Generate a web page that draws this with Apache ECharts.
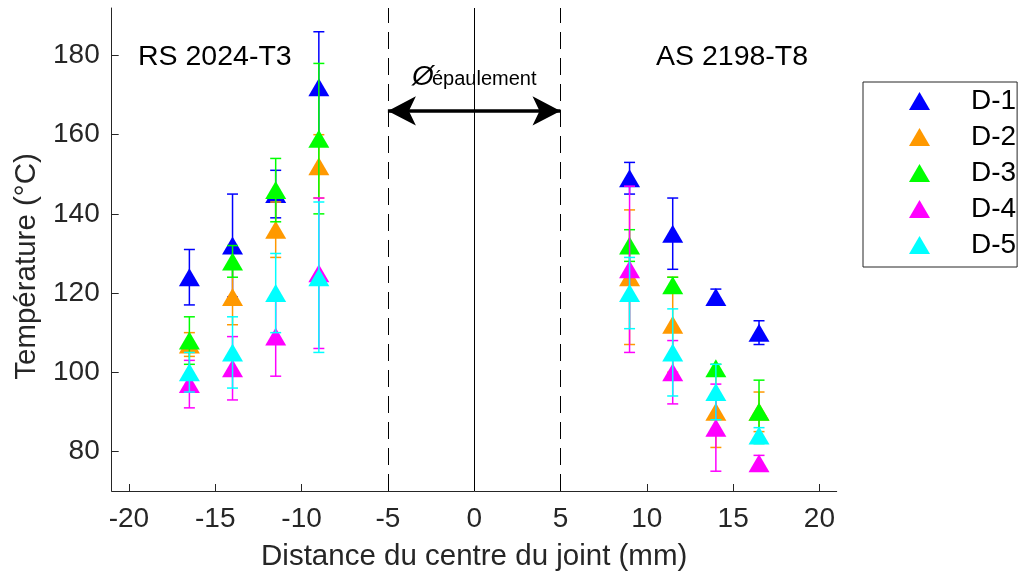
<!DOCTYPE html>
<html>
<head>
<meta charset="utf-8">
<script src="https://cdn.jsdelivr.net/npm/echarts@6/dist/echarts.min.js"></script>
<style>
html,body{margin:0;padding:0;background:#fff;}
#chart{width:1018px;height:576px;}
</style>
</head>
<body>
<div id="chart"></div>
<script>
// ---- data ----
const distances = [-16.5, -14, -11.5, -9, 9, 11.5, 14, 16.5];
const seriesNames = ['D-1', 'D-2', 'D-3', 'D-4', 'D-5'];
const seriesColors = ['#0000FF', '#FF9900', '#00FF00', '#FF00FF', '#00FFFF'];
const d1Mean = [124, 132, 145, 172, 149, 135, 119, 110];
const d1Err  = [7, 13, 6, 14, 4, 9, 2, 3];
const d2Mean = [107, 119, 136, 152, 124, 112, 90, 90];
const d2Err  = [3, 7, 7, 8, 17, 12, 9, 5];
const d3Mean = [108, 128, 146, 159, 132, 122, 101, 90];
const d3Err  = [6, 4, 8, 19, 4, 2, 1, 8];
const d4Mean = [97, 101, 109, 125, 126, 100, 86, 77];
const d4Err  = [6, 8, 10, 19, 21, 8, 11, 2];
const d5Mean = [100, 105, 120, 124, 120, 105, 95, 84];
const d5Err  = [5, 9, 10, 19, 9, 11, 7, 2];
const xTicks = [-20, -15, -10, -5, 0, 5, 10, 15, 20];
const yTicks = [80, 100, 120, 140, 160, 180];
const shoulderLines = [-5, 5];
const centerLine = 0;
const arrowY = 166;

const means = [d1Mean, d2Mean, d3Mean, d4Mean, d5Mean];
const errs = [d1Err, d2Err, d3Err, d4Err, d5Err];

const FONT = '"Liberation Sans", Arial, Helvetica, sans-serif';
const AXC = '#262626';

const chart = echarts.init(document.getElementById('chart'));
const series = [];

seriesNames.forEach((name, k) => {
  const color = seriesColors[k];
  const errData = distances.map((x, i) => [x, means[k][i], errs[k][i]]);
  series.push({
    name: name + ' err',
    type: 'custom',
    z: 3 + 2 * k,
    silent: true,
    data: errData,
    renderItem: function (params, api) {
      const x = api.value(0), y = api.value(1), e = api.value(2);
      const top = api.coord([x, y + e]);
      const bot = api.coord([x, y - e]);
      const hw = 5.5;
      const st = { stroke: color, lineWidth: 1.5 };
      return {
        type: 'group',
        children: [
          { type: 'line', shape: { x1: top[0], y1: top[1], x2: bot[0], y2: bot[1] }, style: st },
          { type: 'line', shape: { x1: top[0] - hw, y1: top[1], x2: top[0] + hw, y2: top[1] }, style: st },
          { type: 'line', shape: { x1: bot[0] - hw, y1: bot[1], x2: bot[0] + hw, y2: bot[1] }, style: st }
        ]
      };
    }
  });
  series.push({
    name: name,
    type: 'scatter',
    z: 4 + 2 * k,
    symbol: 'triangle',
    symbolSize: [21, 18],
    itemStyle: { color: color, opacity: 1 },
    emphasis: { disabled: true },
    data: distances.map((x, i) => [x, means[k][i]])
  });
});

// reference lines & arrow
series.push({
  name: 'guides',
  type: 'line',
  data: [],
  z: 2,
  silent: true,
  markLine: {
    silent: true,
    symbol: ['none', 'none'],
    label: { show: false },
    animation: false,
    data: [
      { xAxis: shoulderLines[0], lineStyle: { color: '#000', width: 1, type: [17, 9] } },
      { xAxis: shoulderLines[1], lineStyle: { color: '#000', width: 1, type: [17, 9] } },
      { xAxis: centerLine, lineStyle: { color: '#000', width: 1, type: 'solid' } }
    ]
  }
});
series.push({
  name: 'arrow',
  type: 'line',
  data: [],
  z: 20,
  silent: true,
  markLine: {
    silent: true,
    symbol: ['arrow', 'arrow'],
    symbolSize: [22, 28],
    label: { show: false },
    animation: false,
    lineStyle: { color: '#000', width: 3.5, type: 'solid' },
    data: [[{ coord: [shoulderLines[0], arrowY] }, { coord: [shoulderLines[1], arrowY] }]]
  }
});

const option = {
  animation: false,
  backgroundColor: '#fff',
  textStyle: { fontFamily: FONT },
  grid: { left: 111.7, right: 181.3, top: 8, bottom: 85, containLabel: false, outerBoundsMode: 'none' },
  xAxis: {
    type: 'value',
    min: -21, max: 21,
    name: 'Distance du centre du joint (mm)',
    nameLocation: 'middle',
    nameGap: 51,
    nameTextStyle: { fontSize: 29.5, color: AXC, fontFamily: FONT },
    axisLine: { show: true, onZero: false, lineStyle: { color: AXC, width: 1 } },
    axisTick: { show: true, inside: true, length: 7, lineStyle: { color: AXC }, customValues: xTicks },
    axisLabel: { fontSize: 28, color: AXC, margin: 14, fontFamily: FONT, customValues: xTicks },
    splitLine: { show: false }
  },
  yAxis: {
    type: 'value',
    min: 70, max: 192,
    name: 'Température (°C)',
    nameLocation: 'middle',
    nameGap: 68,
    nameRotate: 90,
    nameTextStyle: { fontSize: 29.5, color: AXC, fontFamily: FONT, padding: [0, 34, 0, 0] },
    axisLine: { show: true, onZero: false, lineStyle: { color: AXC, width: 1 } },
    axisTick: { show: true, inside: true, length: 7, lineStyle: { color: AXC }, customValues: yTicks },
    axisLabel: { fontSize: 28, color: AXC, margin: 12, fontFamily: FONT, padding: [4, 0, 0, 0], customValues: yTicks },
    splitLine: { show: false }
  },
  legend: {
    data: seriesNames,
    orient: 'vertical',
    left: 863,
    top: 82,
    padding: [5, 1, 8, 46],
    itemGap: 8,
    itemWidth: 21,
    itemHeight: 18,
    borderColor: AXC,
    borderWidth: 1,
    backgroundColor: '#fff',
    selectedMode: false,
    textStyle: { fontSize: 28, lineHeight: 28, color: '#000', fontFamily: FONT, padding: [0, 0, 0, 36] }
  },
  graphic: [
    { type: 'text', left: 138, top: 43, style: { text: 'RS 2024-T3', font: '28.5px ' + FONT, fill: '#000' } },
    { type: 'text', left: 656, top: 43, style: { text: 'AS 2198-T8', font: '28.5px ' + FONT, fill: '#000' } },
    { type: 'text', left: 412, top: 63, style: { text: 'Ø', font: 'italic 28px ' + FONT, fill: '#000' } },
    { type: 'text', left: 432, top: 69, style: { text: 'épaulement', font: '20px ' + FONT, fill: '#000' } }
  ],
  series: series
};
chart.setOption(option);
</script>
</body>
</html>
